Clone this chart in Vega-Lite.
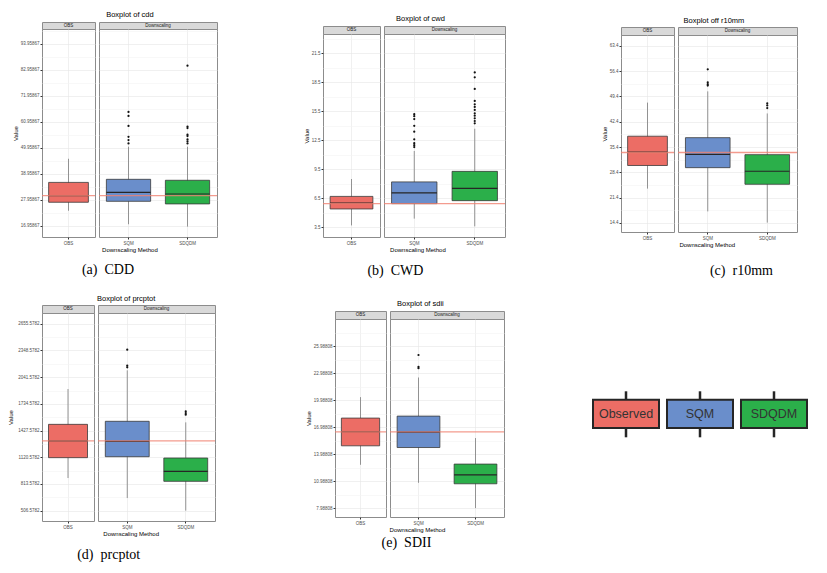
{
"$schema": "https://vega.github.io/schema/vega-lite/v6.json",
"background": "white",
"padding": {"left": 7, "top": 11, "right": 5, "bottom": 3},
"config": {
  "font": "Liberation Sans",
  "view": {"stroke": "#8C8C8C", "strokeWidth": 1},
  "axis": {"labelFontSize": 4.5, "labelColor": "#4D4D4D", "labelPadding": 1, "tickSize": 2, "tickColor": "#333333", "domain": false, "gridColor": "#E6E6E6", "gridWidth": 0.6, "titleFontSize": 6, "titleFontWeight": "normal", "titleColor": "#000000", "titlePadding": 2, "labelOverlap": false},
  "axisX": {"labelAngle": 0, "bandPosition": 0.5},
  "title": {"fontWeight": "normal", "color": "#000000", "fontSize": 7.5, "anchor": "middle"}
},
"datasets": {
  "box": [
    {"chart": "cdd", "panel": "OBS", "method": "OBS", "lo": 23.4, "q1": 27.0, "med": 29.8, "q3": 35.4, "hi": 45.4},
    {"chart": "cdd", "panel": "Down", "method": "SQM", "lo": 17.7, "q1": 27.4, "med": 31.2, "q3": 36.7, "hi": 50.5},
    {"chart": "cdd", "panel": "Down", "method": "SDQDM", "lo": 16.7, "q1": 26.3, "med": 30.5, "q3": 36.3, "hi": 50.5},
    {"chart": "cwd", "panel": "OBS", "method": "OBS", "lo": 3.7, "q1": 5.4, "med": 6.0, "q3": 6.7, "hi": 8.5},
    {"chart": "cwd", "panel": "Down", "method": "SQM", "lo": 4.4, "q1": 5.95, "med": 7.06, "q3": 8.2, "hi": 11.4},
    {"chart": "cwd", "panel": "Down", "method": "SDQDM", "lo": 3.6, "q1": 6.26, "med": 7.53, "q3": 9.29, "hi": 13.7},
    {"chart": "r10mm", "panel": "OBS", "method": "OBS", "lo": 23.9, "q1": 30.3, "med": 34.0, "q3": 38.4, "hi": 47.7},
    {"chart": "r10mm", "panel": "Down", "method": "SQM", "lo": 17.6, "q1": 29.7, "med": 33.35, "q3": 38.0, "hi": 50.8},
    {"chart": "r10mm", "panel": "Down", "method": "SDQDM", "lo": 14.5, "q1": 25.1, "med": 28.7, "q3": 33.3, "hi": 44.7},
    {"chart": "prcptot", "panel": "OBS", "method": "OBS", "lo": 882, "q1": 1116, "med": 1308, "q3": 1499, "hi": 1905},
    {"chart": "prcptot", "panel": "Down", "method": "SQM", "lo": 652, "q1": 1127, "med": 1304, "q3": 1534, "hi": 2120},
    {"chart": "prcptot", "panel": "Down", "method": "SDQDM", "lo": 507, "q1": 844, "med": 959, "q3": 1112, "hi": 1522},
    {"chart": "sdii", "panel": "OBS", "method": "OBS", "lo": 12.8, "q1": 14.91, "med": 16.47, "q3": 17.99, "hi": 20.32},
    {"chart": "sdii", "panel": "Down", "method": "SQM", "lo": 10.8, "q1": 14.72, "med": 16.43, "q3": 18.21, "hi": 22.5},
    {"chart": "sdii", "panel": "Down", "method": "SDQDM", "lo": 7.99, "q1": 10.69, "med": 11.69, "q3": 12.88, "hi": 15.77}
  ],
  "out": [
    {"chart": "cdd", "method": "SQM", "value": 51.9}, {"chart": "cdd", "method": "SQM", "value": 53.3}, {"chart": "cdd", "method": "SQM", "value": 54.7}, {"chart": "cdd", "method": "SQM", "value": 59.3}, {"chart": "cdd", "method": "SQM", "value": 63.5}, {"chart": "cdd", "method": "SQM", "value": 65.2},
    {"chart": "cdd", "method": "SDQDM", "value": 51.9}, {"chart": "cdd", "method": "SDQDM", "value": 52.8}, {"chart": "cdd", "method": "SDQDM", "value": 53.6}, {"chart": "cdd", "method": "SDQDM", "value": 55.0}, {"chart": "cdd", "method": "SDQDM", "value": 55.6}, {"chart": "cdd", "method": "SDQDM", "value": 58.4}, {"chart": "cdd", "method": "SDQDM", "value": 59.0}, {"chart": "cdd", "method": "SDQDM", "value": 84.8},
    {"chart": "cwd", "method": "SQM", "value": 11.8}, {"chart": "cwd", "method": "SQM", "value": 12.0}, {"chart": "cwd", "method": "SQM", "value": 12.2}, {"chart": "cwd", "method": "SQM", "value": 12.6}, {"chart": "cwd", "method": "SQM", "value": 13.4}, {"chart": "cwd", "method": "SQM", "value": 14.0}, {"chart": "cwd", "method": "SQM", "value": 14.7}, {"chart": "cwd", "method": "SQM", "value": 15.0}, {"chart": "cwd", "method": "SQM", "value": 15.2},
    {"chart": "cwd", "method": "SDQDM", "value": 14.26}, {"chart": "cwd", "method": "SDQDM", "value": 14.5}, {"chart": "cwd", "method": "SDQDM", "value": 14.78}, {"chart": "cwd", "method": "SDQDM", "value": 15.05}, {"chart": "cwd", "method": "SDQDM", "value": 15.29}, {"chart": "cwd", "method": "SDQDM", "value": 15.64}, {"chart": "cwd", "method": "SDQDM", "value": 15.95}, {"chart": "cwd", "method": "SDQDM", "value": 16.22}, {"chart": "cwd", "method": "SDQDM", "value": 16.58}, {"chart": "cwd", "method": "SDQDM", "value": 17.82}, {"chart": "cwd", "method": "SDQDM", "value": 19.02}, {"chart": "cwd", "method": "SDQDM", "value": 19.53},
    {"chart": "r10mm", "method": "SQM", "value": 52.4}, {"chart": "r10mm", "method": "SQM", "value": 52.8}, {"chart": "r10mm", "method": "SQM", "value": 53.3}, {"chart": "r10mm", "method": "SQM", "value": 56.9},
    {"chart": "r10mm", "method": "SDQDM", "value": 46.2}, {"chart": "r10mm", "method": "SDQDM", "value": 46.9}, {"chart": "r10mm", "method": "SDQDM", "value": 47.5},
    {"chart": "prcptot", "method": "SQM", "value": 2155}, {"chart": "prcptot", "method": "SQM", "value": 2173}, {"chart": "prcptot", "method": "SQM", "value": 2357},
    {"chart": "prcptot", "method": "SDQDM", "value": 1610}, {"chart": "prcptot", "method": "SDQDM", "value": 1629}, {"chart": "prcptot", "method": "SDQDM", "value": 1649},
    {"chart": "sdii", "method": "SQM", "value": 23.54}, {"chart": "sdii", "method": "SQM", "value": 23.69}, {"chart": "sdii", "method": "SQM", "value": 25.0}
  ],
  "ref": [
    {"chart": "cdd", "value": 29.8}, {"chart": "cwd", "value": 5.95}, {"chart": "r10mm", "value": 33.9}, {"chart": "prcptot", "value": 1308}, {"chart": "sdii", "value": 16.45}
  ],
  "strip": [{"panel": "OBS", "label": "OBS"}, {"panel": "Down", "label": "Downscaling"}],
  "legend": [{"name": "Observed"}, {"name": "SQM"}, {"name": "SDQDM"}]
},
"spacing": 15,
"vconcat": [
{
 "spacing": 83,
 "hconcat": [
  {
   "title": {"text": "(a)\u00a0 CDD", "orient": "bottom", "font": "Liberation Serif", "fontSize": 14, "offset": 9.5, "dx": -7},
   "vconcat": [{
    "title": {"text": "Boxplot of cdd", "offset": 3, "dx": 15},
    "vconcat": [{
     "title": {"text": "Downscaling Method", "orient": "bottom", "fontSize": 6, "offset": 2, "dx": 15},
     "spacing": 0,
     "hconcat": [
      {"bounds": "flush", "spacing": 0, "vconcat": [
        {"width": 53, "height": 7, "view": {"fill": "#D9D9D9", "stroke": "#8C8C8C"}, "data": {"name": "strip"}, "transform": [{"filter": "datum.panel=='OBS'"}], "mark": {"type": "text", "fontSize": 4.5, "color": "#1A1A1A"}, "encoding": {"text": {"field": "label", "type": "nominal"}}},
        {"width": 53, "height": 208, "layer": [
          {"data": {"name": "box"}, "transform": [{"filter": "datum.chart=='cdd' && datum.panel=='OBS'"}], "mark": {"type": "rule", "color": "#7A7A7A", "strokeWidth": 0.8},
           "encoding": {"x": {"field": "method", "type": "nominal", "scale": {"domain": ["OBS"], "paddingInner": 0.25, "paddingOuter": 0.125}, "axis": {"title": null, "grid": true}},
             "y": {"field": "lo", "type": "quantitative", "scale": {"domain": [12.3, 100.3], "nice": false, "zero": false},
               "axis": {"title": "Value", "grid": true, "tickCount": 100, "labelOverlap": false, "values": [16.95867, 22.45867, 27.95867, 33.45867, 38.95867, 44.45867, 49.95867, 55.45867, 60.95867, 66.45867, 71.95867, 77.45867, 82.95867, 88.45867, 93.95867, 99.45867], "format": ".5f",
                 "labelExpr": "abs((datum.value-16.95867)/11-round((datum.value-16.95867)/11))>0.25 ? '' : datum.label",
                 "tickColor": {"condition": {"test": "abs((datum.value-16.95867)/11-round((datum.value-16.95867)/11))>0.25", "value": "transparent"}, "value": "#333333"},
                 "gridColor": {"condition": {"test": "abs((datum.value-16.95867)/11-round((datum.value-16.95867)/11))>0.25", "value": "#F4F4F4"}, "value": "#E6E6E6"}}},
             "y2": {"field": "hi"}}},
          {"data": {"name": "box"}, "transform": [{"filter": "datum.chart=='cdd' && datum.panel=='OBS'"}], "mark": {"type": "bar", "stroke": "#3A3A3A", "strokeWidth": 0.8},
           "encoding": {"x": {"field": "method", "type": "nominal"}, "y": {"field": "q1", "type": "quantitative"}, "y2": {"field": "q3"},
             "color": {"field": "method", "type": "nominal", "scale": {"domain": ["OBS", "SQM", "SDQDM"], "range": ["#EC6D65", "#6A8ECB", "#2BAF4A"]}, "legend": null}}},
          {"data": {"name": "box"}, "transform": [{"filter": "datum.chart=='cdd' && datum.panel=='OBS'"}], "mark": {"type": "bar", "fillOpacity": 0, "stroke": "#262626", "strokeWidth": 1.2},
           "encoding": {"x": {"field": "method", "type": "nominal"}, "y": {"field": "med", "type": "quantitative"}, "y2": {"field": "med"}}},
          {"data": {"name": "ref"}, "transform": [{"filter": "datum.chart=='cdd'"}], "mark": {"type": "rule", "color": "#F08272", "strokeWidth": 1.3, "opacity": 0.8},
           "encoding": {"y": {"field": "value", "type": "quantitative"}}}
        ]}
      ]},
      {"bounds": "flush", "spacing": 0, "vconcat": [
        {"width": 118, "height": 7, "view": {"fill": "#D9D9D9", "stroke": "#8C8C8C"}, "data": {"name": "strip"}, "transform": [{"filter": "datum.panel=='Down'"}], "mark": {"type": "text", "fontSize": 4.5, "color": "#1A1A1A"}, "encoding": {"text": {"field": "label", "type": "nominal"}}},
        {"width": 118, "height": 208, "layer": [
          {"data": {"name": "box"}, "transform": [{"filter": "datum.chart=='cdd' && datum.panel=='Down'"}], "mark": {"type": "rule", "color": "#7A7A7A", "strokeWidth": 0.8},
           "encoding": {"x": {"field": "method", "type": "nominal", "scale": {"domain": ["SQM", "SDQDM"], "paddingInner": 0.25, "paddingOuter": 0.125}, "axis": {"title": null, "grid": true}},
             "y": {"field": "lo", "type": "quantitative", "scale": {"domain": [12.3, 100.3], "nice": false, "zero": false},
               "axis": {"orient": "right", "minExtent": 0, "maxExtent": 0, "tickCount": 100, "title": null, "labels": false, "ticks": false, "grid": true, "values": [16.95867, 22.45867, 27.95867, 33.45867, 38.95867, 44.45867, 49.95867, 55.45867, 60.95867, 66.45867, 71.95867, 77.45867, 82.95867, 88.45867, 93.95867, 99.45867],
                 "gridColor": {"condition": {"test": "abs((datum.value-16.95867)/11-round((datum.value-16.95867)/11))>0.25", "value": "#F4F4F4"}, "value": "#E6E6E6"}}},
             "y2": {"field": "hi"}}},
          {"data": {"name": "box"}, "transform": [{"filter": "datum.chart=='cdd' && datum.panel=='Down'"}], "mark": {"type": "bar", "stroke": "#3A3A3A", "strokeWidth": 0.8},
           "encoding": {"x": {"field": "method", "type": "nominal"}, "y": {"field": "q1", "type": "quantitative"}, "y2": {"field": "q3"},
             "color": {"field": "method", "type": "nominal", "scale": {"domain": ["OBS", "SQM", "SDQDM"], "range": ["#EC6D65", "#6A8ECB", "#2BAF4A"]}, "legend": null}}},
          {"data": {"name": "box"}, "transform": [{"filter": "datum.chart=='cdd' && datum.panel=='Down'"}], "mark": {"type": "bar", "fillOpacity": 0, "stroke": "#262626", "strokeWidth": 1.2},
           "encoding": {"x": {"field": "method", "type": "nominal"}, "y": {"field": "med", "type": "quantitative"}, "y2": {"field": "med"}}},
          {"data": {"name": "out"}, "transform": [{"filter": "datum.chart=='cdd'"}], "mark": {"type": "circle", "color": "#111111", "size": 5, "opacity": 1},
           "encoding": {"x": {"field": "method", "type": "nominal"}, "y": {"field": "value", "type": "quantitative"}}},
          {"data": {"name": "ref"}, "transform": [{"filter": "datum.chart=='cdd'"}], "mark": {"type": "rule", "color": "#F08272", "strokeWidth": 1.3, "opacity": 0.8},
           "encoding": {"y": {"field": "value", "type": "quantitative"}}}
        ]}
      ]}
     ]
    }]
   }]
  },
  {
   "spacing": 93,
   "hconcat": [
  {
   "title": {"text": "(b)\u00a0 CWD", "orient": "bottom", "font": "Liberation Serif", "fontSize": 14, "offset": 11.2, "dx": -9},
   "vconcat": [{
    "title": {"text": "Boxplot of cwd", "offset": 0, "dx": 16},
    "spacing": 0,
    "vconcat": [
     {"width": 1, "height": 2.3, "view": {"stroke": null}, "data": {"values": []}, "mark": "rule", "encoding": {}},
     {
     "title": {"text": "Downscaling Method", "orient": "bottom", "fontSize": 6, "offset": 2, "dx": 13.5},
     "spacing": 0,
     "hconcat": [
      {"bounds": "flush", "spacing": 0, "vconcat": [
        {"width": 57, "height": 8, "view": {"fill": "#D9D9D9", "stroke": "#8C8C8C"}, "data": {"name": "strip"}, "transform": [{"filter": "datum.panel=='OBS'"}], "mark": {"type": "text", "fontSize": 4.5, "color": "#1A1A1A"}, "encoding": {"text": {"field": "label", "type": "nominal"}}},
        {"width": 57, "height": 203, "layer": [
          {"data": {"name": "box"}, "transform": [{"filter": "datum.chart=='cwd' && datum.panel=='OBS'"}], "mark": {"type": "rule", "color": "#7A7A7A", "strokeWidth": 0.8},
           "encoding": {"x": {"field": "method", "type": "nominal", "scale": {"domain": ["OBS"], "paddingInner": 0.25, "paddingOuter": 0.125}, "axis": {"title": null, "grid": true}},
             "y": {"field": "lo", "type": "quantitative", "scale": {"domain": [2.5, 23.5], "nice": false, "zero": false},
               "axis": {"title": "Value", "grid": true, "tickCount": 100, "labelOverlap": false, "values": [3.5, 5, 6.5, 8, 9.5, 11, 12.5, 14, 15.5, 17, 18.5, 20, 21.5, 23], "format": ".1f",
                 "labelExpr": "abs((datum.value-3.5)/3-round((datum.value-3.5)/3))>0.25 ? '' : datum.label",
                 "tickColor": {"condition": {"test": "abs((datum.value-3.5)/3-round((datum.value-3.5)/3))>0.25", "value": "transparent"}, "value": "#333333"},
                 "gridColor": {"condition": {"test": "abs((datum.value-3.5)/3-round((datum.value-3.5)/3))>0.25", "value": "#F4F4F4"}, "value": "#E6E6E6"}}},
             "y2": {"field": "hi"}}},
          {"data": {"name": "box"}, "transform": [{"filter": "datum.chart=='cwd' && datum.panel=='OBS'"}], "mark": {"type": "bar", "stroke": "#3A3A3A", "strokeWidth": 0.8},
           "encoding": {"x": {"field": "method", "type": "nominal"}, "y": {"field": "q1", "type": "quantitative"}, "y2": {"field": "q3"},
             "color": {"field": "method", "type": "nominal", "scale": {"domain": ["OBS", "SQM", "SDQDM"], "range": ["#EC6D65", "#6A8ECB", "#2BAF4A"]}, "legend": null}}},
          {"data": {"name": "box"}, "transform": [{"filter": "datum.chart=='cwd' && datum.panel=='OBS'"}], "mark": {"type": "bar", "fillOpacity": 0, "stroke": "#262626", "strokeWidth": 1.2},
           "encoding": {"x": {"field": "method", "type": "nominal"}, "y": {"field": "med", "type": "quantitative"}, "y2": {"field": "med"}}},
          {"data": {"name": "ref"}, "transform": [{"filter": "datum.chart=='cwd'"}], "mark": {"type": "rule", "color": "#F08272", "strokeWidth": 1.3, "opacity": 0.8},
           "encoding": {"y": {"field": "value", "type": "quantitative"}}}
        ]}
      ]},
      {"bounds": "flush", "spacing": 0, "vconcat": [
        {"width": 121, "height": 8, "view": {"fill": "#D9D9D9", "stroke": "#8C8C8C"}, "data": {"name": "strip"}, "transform": [{"filter": "datum.panel=='Down'"}], "mark": {"type": "text", "fontSize": 4.5, "color": "#1A1A1A"}, "encoding": {"text": {"field": "label", "type": "nominal"}}},
        {"width": 121, "height": 203, "layer": [
          {"data": {"name": "box"}, "transform": [{"filter": "datum.chart=='cwd' && datum.panel=='Down'"}], "mark": {"type": "rule", "color": "#7A7A7A", "strokeWidth": 0.8},
           "encoding": {"x": {"field": "method", "type": "nominal", "scale": {"domain": ["SQM", "SDQDM"], "paddingInner": 0.25, "paddingOuter": 0.125}, "axis": {"title": null, "grid": true}},
             "y": {"field": "lo", "type": "quantitative", "scale": {"domain": [2.5, 23.5], "nice": false, "zero": false},
               "axis": {"orient": "right", "minExtent": 0, "maxExtent": 0, "tickCount": 100, "title": null, "labels": false, "ticks": false, "grid": true, "values": [3.5, 5, 6.5, 8, 9.5, 11, 12.5, 14, 15.5, 17, 18.5, 20, 21.5, 23],
                 "gridColor": {"condition": {"test": "abs((datum.value-3.5)/3-round((datum.value-3.5)/3))>0.25", "value": "#F4F4F4"}, "value": "#E6E6E6"}}},
             "y2": {"field": "hi"}}},
          {"data": {"name": "box"}, "transform": [{"filter": "datum.chart=='cwd' && datum.panel=='Down'"}], "mark": {"type": "bar", "stroke": "#3A3A3A", "strokeWidth": 0.8},
           "encoding": {"x": {"field": "method", "type": "nominal"}, "y": {"field": "q1", "type": "quantitative"}, "y2": {"field": "q3"},
             "color": {"field": "method", "type": "nominal", "scale": {"domain": ["OBS", "SQM", "SDQDM"], "range": ["#EC6D65", "#6A8ECB", "#2BAF4A"]}, "legend": null}}},
          {"data": {"name": "box"}, "transform": [{"filter": "datum.chart=='cwd' && datum.panel=='Down'"}], "mark": {"type": "bar", "fillOpacity": 0, "stroke": "#262626", "strokeWidth": 1.2},
           "encoding": {"x": {"field": "method", "type": "nominal"}, "y": {"field": "med", "type": "quantitative"}, "y2": {"field": "med"}}},
          {"data": {"name": "out"}, "transform": [{"filter": "datum.chart=='cwd'"}], "mark": {"type": "circle", "color": "#111111", "size": 5, "opacity": 1},
           "encoding": {"x": {"field": "method", "type": "nominal"}, "y": {"field": "value", "type": "quantitative"}}},
          {"data": {"name": "ref"}, "transform": [{"filter": "datum.chart=='cwd'"}], "mark": {"type": "rule", "color": "#F08272", "strokeWidth": 1.3, "opacity": 0.8},
           "encoding": {"y": {"field": "value", "type": "quantitative"}}}
        ]}
      ]}
     ]
    }]
   }]
  },
  {
   "title": {"text": "(c)\u00a0 r10mm", "orient": "bottom", "font": "Liberation Serif", "fontSize": 14, "offset": 15.5, "dx": 42},
   "vconcat": [{
    "title": {"text": "Boxplot off r10mm", "offset": -2, "dx": 14.5},
    "spacing": 0,
    "vconcat": [
     {"width": 1, "height": 4, "view": {"stroke": null}, "data": {"values": []}, "mark": "rule", "encoding": {}},
     {
     "title": {"text": "Downscaling Method", "orient": "bottom", "fontSize": 6, "offset": 2, "dx": 7.8},
     "spacing": 0,
     "hconcat": [
      {"bounds": "flush", "spacing": 0, "vconcat": [
        {"width": 53, "height": 8, "view": {"fill": "#D9D9D9", "stroke": "#8C8C8C"}, "data": {"name": "strip"}, "transform": [{"filter": "datum.panel=='OBS'"}], "mark": {"type": "text", "fontSize": 4.5, "color": "#1A1A1A"}, "encoding": {"text": {"field": "label", "type": "nominal"}}},
        {"width": 53, "height": 197, "layer": [
          {"data": {"name": "box"}, "transform": [{"filter": "datum.chart=='r10mm' && datum.panel=='OBS'"}], "mark": {"type": "rule", "color": "#7A7A7A", "strokeWidth": 0.8},
           "encoding": {"x": {"field": "method", "type": "nominal", "scale": {"domain": ["OBS"], "paddingInner": 0.25, "paddingOuter": 0.125}, "axis": {"title": null, "grid": true}},
             "y": {"field": "lo", "type": "quantitative", "scale": {"domain": [11.9, 66.4], "nice": false, "zero": false},
               "axis": {"title": "Value", "grid": true, "tickCount": 100, "labelOverlap": false, "values": [14.4, 17.9, 21.4, 24.9, 28.4, 31.9, 35.4, 38.9, 42.4, 45.9, 49.4, 52.9, 56.4, 59.9, 63.4], "format": ".1f",
                 "labelExpr": "abs((datum.value-14.4)/7-round((datum.value-14.4)/7))>0.25 ? '' : datum.label",
                 "tickColor": {"condition": {"test": "abs((datum.value-14.4)/7-round((datum.value-14.4)/7))>0.25", "value": "transparent"}, "value": "#333333"},
                 "gridColor": {"condition": {"test": "abs((datum.value-14.4)/7-round((datum.value-14.4)/7))>0.25", "value": "#F4F4F4"}, "value": "#E6E6E6"}}},
             "y2": {"field": "hi"}}},
          {"data": {"name": "box"}, "transform": [{"filter": "datum.chart=='r10mm' && datum.panel=='OBS'"}], "mark": {"type": "bar", "stroke": "#3A3A3A", "strokeWidth": 0.8},
           "encoding": {"x": {"field": "method", "type": "nominal"}, "y": {"field": "q1", "type": "quantitative"}, "y2": {"field": "q3"},
             "color": {"field": "method", "type": "nominal", "scale": {"domain": ["OBS", "SQM", "SDQDM"], "range": ["#EC6D65", "#6A8ECB", "#2BAF4A"]}, "legend": null}}},
          {"data": {"name": "box"}, "transform": [{"filter": "datum.chart=='r10mm' && datum.panel=='OBS'"}], "mark": {"type": "bar", "fillOpacity": 0, "stroke": "#262626", "strokeWidth": 1.2},
           "encoding": {"x": {"field": "method", "type": "nominal"}, "y": {"field": "med", "type": "quantitative"}, "y2": {"field": "med"}}},
          {"data": {"name": "ref"}, "transform": [{"filter": "datum.chart=='r10mm'"}], "mark": {"type": "rule", "color": "#F08272", "strokeWidth": 1.3, "opacity": 0.8},
           "encoding": {"y": {"field": "value", "type": "quantitative"}}}
        ]}
      ]},
      {"bounds": "flush", "spacing": 0, "vconcat": [
        {"width": 119, "height": 8, "view": {"fill": "#D9D9D9", "stroke": "#8C8C8C"}, "data": {"name": "strip"}, "transform": [{"filter": "datum.panel=='Down'"}], "mark": {"type": "text", "fontSize": 4.5, "color": "#1A1A1A"}, "encoding": {"text": {"field": "label", "type": "nominal"}}},
        {"width": 119, "height": 197, "layer": [
          {"data": {"name": "box"}, "transform": [{"filter": "datum.chart=='r10mm' && datum.panel=='Down'"}], "mark": {"type": "rule", "color": "#7A7A7A", "strokeWidth": 0.8},
           "encoding": {"x": {"field": "method", "type": "nominal", "scale": {"domain": ["SQM", "SDQDM"], "paddingInner": 0.25, "paddingOuter": 0.125}, "axis": {"title": null, "grid": true}},
             "y": {"field": "lo", "type": "quantitative", "scale": {"domain": [11.9, 66.4], "nice": false, "zero": false},
               "axis": {"orient": "right", "minExtent": 0, "maxExtent": 0, "tickCount": 100, "title": null, "labels": false, "ticks": false, "grid": true, "values": [14.4, 17.9, 21.4, 24.9, 28.4, 31.9, 35.4, 38.9, 42.4, 45.9, 49.4, 52.9, 56.4, 59.9, 63.4],
                 "gridColor": {"condition": {"test": "abs((datum.value-14.4)/7-round((datum.value-14.4)/7))>0.25", "value": "#F4F4F4"}, "value": "#E6E6E6"}}},
             "y2": {"field": "hi"}}},
          {"data": {"name": "box"}, "transform": [{"filter": "datum.chart=='r10mm' && datum.panel=='Down'"}], "mark": {"type": "bar", "stroke": "#3A3A3A", "strokeWidth": 0.8},
           "encoding": {"x": {"field": "method", "type": "nominal"}, "y": {"field": "q1", "type": "quantitative"}, "y2": {"field": "q3"},
             "color": {"field": "method", "type": "nominal", "scale": {"domain": ["OBS", "SQM", "SDQDM"], "range": ["#EC6D65", "#6A8ECB", "#2BAF4A"]}, "legend": null}}},
          {"data": {"name": "box"}, "transform": [{"filter": "datum.chart=='r10mm' && datum.panel=='Down'"}], "mark": {"type": "bar", "fillOpacity": 0, "stroke": "#262626", "strokeWidth": 1.2},
           "encoding": {"x": {"field": "method", "type": "nominal"}, "y": {"field": "med", "type": "quantitative"}, "y2": {"field": "med"}}},
          {"data": {"name": "out"}, "transform": [{"filter": "datum.chart=='r10mm'"}], "mark": {"type": "circle", "color": "#111111", "size": 5, "opacity": 1},
           "encoding": {"x": {"field": "method", "type": "nominal"}, "y": {"field": "value", "type": "quantitative"}}},
          {"data": {"name": "ref"}, "transform": [{"filter": "datum.chart=='r10mm'"}], "mark": {"type": "rule", "color": "#F08272", "strokeWidth": 1.3, "opacity": 0.8},
           "encoding": {"y": {"field": "value", "type": "quantitative"}}}
        ]}
      ]}
     ]
    }]
   }]
  }
   ]
  }
 ]
},
{
 "spacing": 87,
 "hconcat": [
  {
   "title": {"text": "(d)\u00a0 prcptot", "orient": "bottom", "font": "Liberation Serif", "fontSize": 14, "offset": 11, "dx": -3},
   "vconcat": [{
    "title": {"text": "Boxplot of prcptot", "offset": 2.3, "dx": 14.5},
    "vconcat": [{
     "title": {"text": "Downscaling Method", "orient": "bottom", "fontSize": 6, "offset": 2, "dx": 19.5},
     "spacing": 0,
     "hconcat": [
      {"bounds": "flush", "spacing": 0, "vconcat": [
        {"width": 52, "height": 8, "view": {"fill": "#D9D9D9", "stroke": "#8C8C8C"}, "data": {"name": "strip"}, "transform": [{"filter": "datum.panel=='OBS'"}], "mark": {"type": "text", "fontSize": 4.5, "color": "#1A1A1A"}, "encoding": {"text": {"field": "label", "type": "nominal"}}},
        {"width": 52, "height": 208, "layer": [
          {"data": {"name": "box"}, "transform": [{"filter": "datum.chart=='prcptot' && datum.panel=='OBS'"}], "mark": {"type": "rule", "color": "#7A7A7A", "strokeWidth": 0.8},
           "encoding": {"x": {"field": "method", "type": "nominal", "scale": {"domain": ["OBS"], "paddingInner": 0.25, "paddingOuter": 0.125}, "axis": {"title": null, "grid": true}},
             "y": {"field": "lo", "type": "quantitative", "scale": {"domain": [388, 2779], "nice": false, "zero": false},
               "axis": {"title": "Value", "titlePadding": 4, "grid": true, "tickCount": 100, "labelOverlap": false, "values": [506.5782, 660.0782, 813.5782, 967.0782, 1120.5782, 1274.0782, 1427.5782, 1581.0782, 1734.5782, 1888.0782, 2041.5782, 2195.0782, 2348.5782, 2502.0782, 2655.5782], "format": ".4f",
                 "labelExpr": "abs((datum.value-506.5782)/307-round((datum.value-506.5782)/307))>0.25 ? '' : datum.label",
                 "tickColor": {"condition": {"test": "abs((datum.value-506.5782)/307-round((datum.value-506.5782)/307))>0.25", "value": "transparent"}, "value": "#333333"},
                 "gridColor": {"condition": {"test": "abs((datum.value-506.5782)/307-round((datum.value-506.5782)/307))>0.25", "value": "#F4F4F4"}, "value": "#E6E6E6"}}},
             "y2": {"field": "hi"}}},
          {"data": {"name": "box"}, "transform": [{"filter": "datum.chart=='prcptot' && datum.panel=='OBS'"}], "mark": {"type": "bar", "stroke": "#3A3A3A", "strokeWidth": 0.8},
           "encoding": {"x": {"field": "method", "type": "nominal"}, "y": {"field": "q1", "type": "quantitative"}, "y2": {"field": "q3"},
             "color": {"field": "method", "type": "nominal", "scale": {"domain": ["OBS", "SQM", "SDQDM"], "range": ["#EC6D65", "#6A8ECB", "#2BAF4A"]}, "legend": null}}},
          {"data": {"name": "box"}, "transform": [{"filter": "datum.chart=='prcptot' && datum.panel=='OBS'"}], "mark": {"type": "bar", "fillOpacity": 0, "stroke": "#262626", "strokeWidth": 1.2},
           "encoding": {"x": {"field": "method", "type": "nominal"}, "y": {"field": "med", "type": "quantitative"}, "y2": {"field": "med"}}},
          {"data": {"name": "ref"}, "transform": [{"filter": "datum.chart=='prcptot'"}], "mark": {"type": "rule", "color": "#F08272", "strokeWidth": 1.3, "opacity": 0.8},
           "encoding": {"y": {"field": "value", "type": "quantitative"}}}
        ]}
      ]},
      {"bounds": "flush", "spacing": 0, "vconcat": [
        {"width": 117, "height": 8, "view": {"fill": "#D9D9D9", "stroke": "#8C8C8C"}, "data": {"name": "strip"}, "transform": [{"filter": "datum.panel=='Down'"}], "mark": {"type": "text", "fontSize": 4.5, "color": "#1A1A1A"}, "encoding": {"text": {"field": "label", "type": "nominal"}}},
        {"width": 117, "height": 208, "layer": [
          {"data": {"name": "box"}, "transform": [{"filter": "datum.chart=='prcptot' && datum.panel=='Down'"}], "mark": {"type": "rule", "color": "#7A7A7A", "strokeWidth": 0.8},
           "encoding": {"x": {"field": "method", "type": "nominal", "scale": {"domain": ["SQM", "SDQDM"], "paddingInner": 0.25, "paddingOuter": 0.125}, "axis": {"title": null, "grid": true}},
             "y": {"field": "lo", "type": "quantitative", "scale": {"domain": [388, 2779], "nice": false, "zero": false},
               "axis": {"orient": "right", "minExtent": 0, "maxExtent": 0, "tickCount": 100, "title": null, "labels": false, "ticks": false, "grid": true, "values": [506.5782, 660.0782, 813.5782, 967.0782, 1120.5782, 1274.0782, 1427.5782, 1581.0782, 1734.5782, 1888.0782, 2041.5782, 2195.0782, 2348.5782, 2502.0782, 2655.5782],
                 "gridColor": {"condition": {"test": "abs((datum.value-506.5782)/307-round((datum.value-506.5782)/307))>0.25", "value": "#F4F4F4"}, "value": "#E6E6E6"}}},
             "y2": {"field": "hi"}}},
          {"data": {"name": "box"}, "transform": [{"filter": "datum.chart=='prcptot' && datum.panel=='Down'"}], "mark": {"type": "bar", "stroke": "#3A3A3A", "strokeWidth": 0.8},
           "encoding": {"x": {"field": "method", "type": "nominal"}, "y": {"field": "q1", "type": "quantitative"}, "y2": {"field": "q3"},
             "color": {"field": "method", "type": "nominal", "scale": {"domain": ["OBS", "SQM", "SDQDM"], "range": ["#EC6D65", "#6A8ECB", "#2BAF4A"]}, "legend": null}}},
          {"data": {"name": "box"}, "transform": [{"filter": "datum.chart=='prcptot' && datum.panel=='Down'"}], "mark": {"type": "bar", "fillOpacity": 0, "stroke": "#262626", "strokeWidth": 1.2},
           "encoding": {"x": {"field": "method", "type": "nominal"}, "y": {"field": "med", "type": "quantitative"}, "y2": {"field": "med"}}},
          {"data": {"name": "out"}, "transform": [{"filter": "datum.chart=='prcptot'"}], "mark": {"type": "circle", "color": "#111111", "size": 5, "opacity": 1},
           "encoding": {"x": {"field": "method", "type": "nominal"}, "y": {"field": "value", "type": "quantitative"}}},
          {"data": {"name": "ref"}, "transform": [{"filter": "datum.chart=='prcptot'"}], "mark": {"type": "rule", "color": "#F08272", "strokeWidth": 1.3, "opacity": 0.8},
           "encoding": {"y": {"field": "value", "type": "quantitative"}}}
        ]}
      ]}
     ]
    }]
   }]
  },
  {
   "spacing": 86,
   "hconcat": [
  {
   "title": {"text": "(e)\u00a0 SDII", "orient": "bottom", "font": "Liberation Serif", "fontSize": 14, "offset": 3, "dx": 1.5},
   "vconcat": [{
    "title": {"text": "Boxplot of sdii", "offset": -2, "dx": 15.5},
    "spacing": 0,
    "vconcat": [
     {"width": 1, "height": 5, "view": {"stroke": null}, "data": {"values": []}, "mark": "rule", "encoding": {}},
     {
     "title": {"text": "Downscaling Method", "orient": "bottom", "fontSize": 6, "offset": 2, "dx": 12.5},
     "spacing": 0,
     "hconcat": [
      {"bounds": "flush", "spacing": 0, "vconcat": [
        {"width": 51, "height": 8, "view": {"fill": "#D9D9D9", "stroke": "#8C8C8C"}, "data": {"name": "strip"}, "transform": [{"filter": "datum.panel=='OBS'"}], "mark": {"type": "text", "fontSize": 4.5, "color": "#1A1A1A"}, "encoding": {"text": {"field": "label", "type": "nominal"}}},
        {"width": 51, "height": 198, "layer": [
          {"data": {"name": "box"}, "transform": [{"filter": "datum.chart=='sdii' && datum.panel=='OBS'"}], "mark": {"type": "rule", "color": "#7A7A7A", "strokeWidth": 0.8},
           "encoding": {"x": {"field": "method", "type": "nominal", "scale": {"domain": ["OBS"], "paddingInner": 0.25, "paddingOuter": 0.125}, "axis": {"title": null, "grid": true}},
             "y": {"field": "lo", "type": "quantitative", "scale": {"domain": [7.0, 29.0], "nice": false, "zero": false},
               "axis": {"title": "Value", "grid": true, "tickCount": 100, "labelOverlap": false, "values": [7.98808, 9.48808, 10.98808, 12.48808, 13.98808, 15.48808, 16.98808, 18.48808, 19.98808, 21.48808, 22.98808, 24.48808, 25.98808, 27.48808], "format": ".5f",
                 "labelExpr": "abs((datum.value-7.98808)/3-round((datum.value-7.98808)/3))>0.25 ? '' : datum.label",
                 "tickColor": {"condition": {"test": "abs((datum.value-7.98808)/3-round((datum.value-7.98808)/3))>0.25", "value": "transparent"}, "value": "#333333"},
                 "gridColor": {"condition": {"test": "abs((datum.value-7.98808)/3-round((datum.value-7.98808)/3))>0.25", "value": "#F4F4F4"}, "value": "#E6E6E6"}}},
             "y2": {"field": "hi"}}},
          {"data": {"name": "box"}, "transform": [{"filter": "datum.chart=='sdii' && datum.panel=='OBS'"}], "mark": {"type": "bar", "stroke": "#3A3A3A", "strokeWidth": 0.8},
           "encoding": {"x": {"field": "method", "type": "nominal"}, "y": {"field": "q1", "type": "quantitative"}, "y2": {"field": "q3"},
             "color": {"field": "method", "type": "nominal", "scale": {"domain": ["OBS", "SQM", "SDQDM"], "range": ["#EC6D65", "#6A8ECB", "#2BAF4A"]}, "legend": null}}},
          {"data": {"name": "box"}, "transform": [{"filter": "datum.chart=='sdii' && datum.panel=='OBS'"}], "mark": {"type": "bar", "fillOpacity": 0, "stroke": "#262626", "strokeWidth": 1.2},
           "encoding": {"x": {"field": "method", "type": "nominal"}, "y": {"field": "med", "type": "quantitative"}, "y2": {"field": "med"}}},
          {"data": {"name": "ref"}, "transform": [{"filter": "datum.chart=='sdii'"}], "mark": {"type": "rule", "color": "#F08272", "strokeWidth": 1.3, "opacity": 0.8},
           "encoding": {"y": {"field": "value", "type": "quantitative"}}}
        ]}
      ]},
      {"bounds": "flush", "spacing": 0, "vconcat": [
        {"width": 114, "height": 8, "view": {"fill": "#D9D9D9", "stroke": "#8C8C8C"}, "data": {"name": "strip"}, "transform": [{"filter": "datum.panel=='Down'"}], "mark": {"type": "text", "fontSize": 4.5, "color": "#1A1A1A"}, "encoding": {"text": {"field": "label", "type": "nominal"}}},
        {"width": 114, "height": 198, "layer": [
          {"data": {"name": "box"}, "transform": [{"filter": "datum.chart=='sdii' && datum.panel=='Down'"}], "mark": {"type": "rule", "color": "#7A7A7A", "strokeWidth": 0.8},
           "encoding": {"x": {"field": "method", "type": "nominal", "scale": {"domain": ["SQM", "SDQDM"], "paddingInner": 0.25, "paddingOuter": 0.125}, "axis": {"title": null, "grid": true}},
             "y": {"field": "lo", "type": "quantitative", "scale": {"domain": [7.0, 29.0], "nice": false, "zero": false},
               "axis": {"orient": "right", "minExtent": 0, "maxExtent": 0, "tickCount": 100, "title": null, "labels": false, "ticks": false, "grid": true, "values": [7.98808, 9.48808, 10.98808, 12.48808, 13.98808, 15.48808, 16.98808, 18.48808, 19.98808, 21.48808, 22.98808, 24.48808, 25.98808, 27.48808],
                 "gridColor": {"condition": {"test": "abs((datum.value-7.98808)/3-round((datum.value-7.98808)/3))>0.25", "value": "#F4F4F4"}, "value": "#E6E6E6"}}},
             "y2": {"field": "hi"}}},
          {"data": {"name": "box"}, "transform": [{"filter": "datum.chart=='sdii' && datum.panel=='Down'"}], "mark": {"type": "bar", "stroke": "#3A3A3A", "strokeWidth": 0.8},
           "encoding": {"x": {"field": "method", "type": "nominal"}, "y": {"field": "q1", "type": "quantitative"}, "y2": {"field": "q3"},
             "color": {"field": "method", "type": "nominal", "scale": {"domain": ["OBS", "SQM", "SDQDM"], "range": ["#EC6D65", "#6A8ECB", "#2BAF4A"]}, "legend": null}}},
          {"data": {"name": "box"}, "transform": [{"filter": "datum.chart=='sdii' && datum.panel=='Down'"}], "mark": {"type": "bar", "fillOpacity": 0, "stroke": "#262626", "strokeWidth": 1.2},
           "encoding": {"x": {"field": "method", "type": "nominal"}, "y": {"field": "med", "type": "quantitative"}, "y2": {"field": "med"}}},
          {"data": {"name": "out"}, "transform": [{"filter": "datum.chart=='sdii'"}], "mark": {"type": "circle", "color": "#111111", "size": 5, "opacity": 1},
           "encoding": {"x": {"field": "method", "type": "nominal"}, "y": {"field": "value", "type": "quantitative"}}},
          {"data": {"name": "ref"}, "transform": [{"filter": "datum.chart=='sdii'"}], "mark": {"type": "rule", "color": "#F08272", "strokeWidth": 1.3, "opacity": 0.8},
           "encoding": {"y": {"field": "value", "type": "quantitative"}}}
        ]}
      ]}
     ]
    }]
   }]
  },
  {
   "width": 214, "height": 200,
   "view": {"stroke": null},
   "data": {"name": "legend"},
   "encoding": {"x": {"field": "name", "type": "nominal", "scale": {"domain": ["Observed", "SQM", "SDQDM"], "paddingInner": 0.108, "paddingOuter": 0}, "axis": null}},
   "layer": [
     {"mark": {"type": "rule", "color": "#262626", "strokeWidth": 2.5},
      "encoding": {"y": {"datum": 0.5685, "type": "quantitative", "scale": {"domain": [0, 1], "nice": false, "zero": false}, "axis": null}, "y2": {"datum": 0.3385}}},
     {"mark": {"type": "bar", "stroke": "#262626", "strokeWidth": 2},
      "encoding": {"y": {"datum": 0.5265, "type": "quantitative"}, "y2": {"datum": 0.385},
        "fill": {"field": "name", "type": "nominal", "scale": {"domain": ["Observed", "SQM", "SDQDM"], "range": ["#EC6D65", "#6A8ECB", "#2BAF4A"]}, "legend": null}}},
     {"mark": {"type": "text", "fontSize": 12.5, "color": "#333333"},
      "encoding": {"y": {"datum": 0.4558, "type": "quantitative"}, "text": {"field": "name", "type": "nominal"}}}
   ]
  }
   ]
  }
 ]
}
]
}
